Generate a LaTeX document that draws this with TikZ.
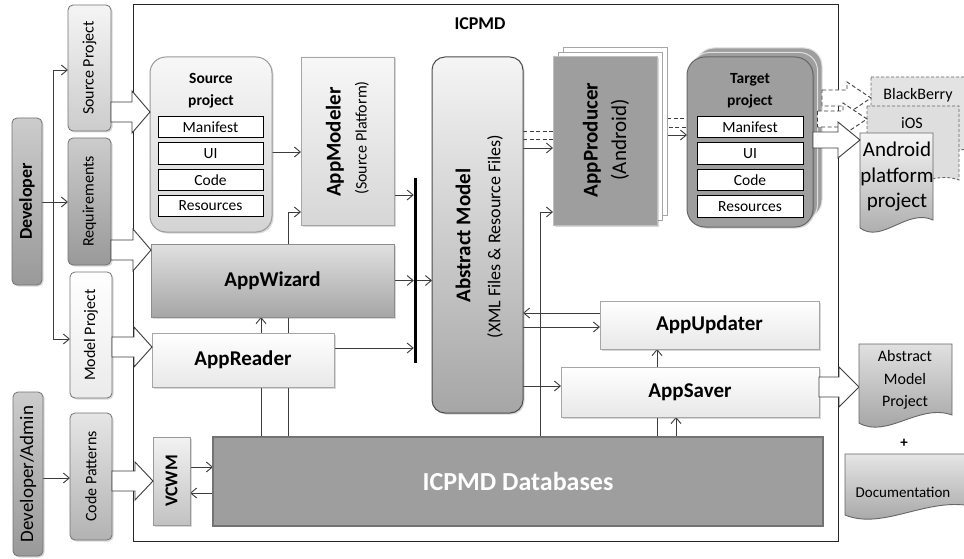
\documentclass[tikz,border=0pt]{standalone}
\usepackage{fontspec}
\setmainfont{Carlito}
\usetikzlibrary{arrows.meta,calc,shadows}
\pgfdeclarelayer{back}
\pgfdeclarelayer{wires}
\pgfsetlayers{back,wires,main}
\definecolor{edge}{HTML}{3C3C3C}

% horizontal outlined block arrow: style, start, tip, shaft half-height, head half-height, head length
\newcommand\blockarrow[6]{%
  \draw[#1] let \p1=#2, \p2=#3 in
    (\x1,\y1+#4pt) -- (\x2-#6pt,\y1+#4pt) -- (\x2-#6pt,\y1+#5pt) -- (\x2,\y1)
    -- (\x2-#6pt,\y1-#5pt) -- (\x2-#6pt,\y1-#4pt) -- (\x1,\y1-#4pt) -- cycle;}
% document sheet with a wavy lower edge, drawn over a placeholder node
\newcommand\docshape[2]{%
  \draw[#2] (#1.north west) -- (#1.north east) -- ($(#1.south east)+(0,-8)$)
    .. controls ($(#1.south west)!0.65!(#1.south east)+(0,-20)$)
    and ($(#1.south west)!0.3!(#1.south east)+(0,16)$) .. (#1.south west) -- cycle;}

\begin{document}
\begin{tikzpicture}[x=1pt,y=-1pt,
  plain/.style={rectangle, inner sep=0pt, outer sep=0pt},
  soft/.style={drop shadow={shadow xshift=1.5pt, shadow yshift=-1.5pt, opacity=0.25, fill=black!60}},
  wire/.style={draw=edge, line width=0.9pt},
  arr/.style={wire, -{Straight Barb[length=6pt,width=10pt]}},
  dwire/.style={wire, dash pattern=on 4pt off 2.5pt},
  fatarrow/.style={draw=edge, line width=0.9pt, fill=white, line join=miter},
  dfatarrow/.style={fatarrow, dash pattern=on 4pt off 2.5pt},
  pill/.style={plain, rounded corners=5pt, draw=black!55, line width=0.8pt, soft},
  panel/.style={plain, draw=black!35, line width=0.9pt, soft},
  item/.style={plain, draw=black, line width=0.9pt, fill=white, minimum width=105pt,
    minimum height=21.5pt, font=\fontsize{15.5}{18}\selectfont},
  txt/.style={inner sep=0pt, align=center},
  sidetxt/.style={txt, rotate=90, font=\fontsize{16}{19}\selectfont},
  bigfont/.style={font=\fontsize{21}{25}\selectfont\bfseries},
  bigtxt/.style={txt, bigfont},
  headtxt/.style={txt, font=\fontsize{15.5}{22}\selectfont\bfseries},
  docfill/.style={draw=black!60, line width=0.9pt},
  ddoc/.style={draw=black!60, line width=0.9pt, dash pattern=on 3pt off 2pt},
]
\begin{pgfonlayer}{back}
  \fill[white] (0,0) rectangle (964,559);
\end{pgfonlayer}
\useasboundingbox (0,0) rectangle (964,559);

% ---------------- ICPMD frame
\node[plain, draw=black!85, line width=1pt, minimum width=705pt, minimum height=536pt] (icpmd) at (485.5,273) {};
\node[txt, font=\fontsize{18}{21}\selectfont\bfseries] (icpmdtitle) at (480,24) {ICPMD};

% ---------------- actors and inputs
\node[pill, top color=black!20, bottom color=black!40, minimum width=30pt, minimum height=167pt] (dev) at (27,201.5) {};
\node[txt, rotate=90, font=\fontsize{18}{21}\selectfont\bfseries] (devtxt) at (dev.center) {Developer};
\node[pill, top color=black!20, bottom color=black!40, minimum width=30pt, minimum height=164pt] (admin) at (28,474) {};
\node[txt, rotate=90, font=\fontsize{19}{22}\selectfont] (admintxt) at (admin.center) {Developer/Admin};

\node[pill, top color=black!4, bottom color=black!20, minimum width=43pt, minimum height=126pt] (srcin) at (89.5,68) {};
\node[sidetxt] (srcintxt) at (srcin.center) {Source Project};
\node[pill, top color=black!20, bottom color=black!40, minimum width=43pt, minimum height=127pt] (req) at (89.5,201.5) {};
\node[sidetxt] (reqtxt) at (req.center) {Requirements};
\node[pill, top color=white, bottom color=black!8, minimum width=42pt, minimum height=126pt] (modin) at (91,335) {};
\node[sidetxt] (modintxt) at (modin.center) {Model Project};
\node[pill, top color=black!10, bottom color=black!30, minimum width=42pt, minimum height=127pt] (pat) at (91,476.5) {};
\node[sidetxt] (pattxt) at (pat.center) {Code Patterns};

% ---------------- source project
\node[plain, rounded corners=16pt, draw=black!40, line width=1pt, top color=black!3, bottom color=black!17, soft,
  minimum width=122pt, minimum height=175pt] (srcproj) at (211,144.5) {};
\node[headtxt] (srcprojtxt) at (211,91) {Source\\project};
\node[item] (sman) at (210.5,127) {Manifest};
\node[item] (sui) at (210.5,153.5) {UI};
\node[item] (scode) at (210.5,180) {Code};
\node[item] (sres) at (210.5,206) {Resources};

% ---------------- modeler, wizard, reader
\node[panel, top color=black!3, bottom color=black!16, minimum width=93pt, minimum height=168pt] (modeler) at (347.5,141) {};
\node[bigtxt, rotate=90] (modelertxt) at (335,142) {AppModeler};
\node[sidetxt] (modelersub) at (362,138) {(Source Platform)};

\node[panel, draw=black!45, top color=black!12, bottom color=black!35, minimum width=243pt, minimum height=73pt, bigfont] (wizard) at (272.5,280.5) {AppWizard};
\node[panel, top color=white, bottom color=black!9, minimum width=182pt, minimum height=54pt, bigfont] (reader) at (243,360) {AppReader};

\node[plain, fill=black, minimum width=3.5pt, minimum height=185pt] (bar) at (415.5,270.5) {};

% ---------------- abstract model
\node[plain, rounded corners=13pt, draw=black!70, line width=1pt, top color=black!4, bottom color=black!35, soft,
  minimum width=91pt, minimum height=356pt] (absm) at (477.5,235) {};
\node[bigtxt, rotate=90] (absmtxt) at (463,235.5) {Abstract Model};
\node[txt, rotate=90, font=\fontsize{18}{21}\selectfont] (absmsub) at (495,236.5) {(XML Files \& Resource Files)};

% ---------------- producer (stacked sheets)
\node[plain, draw=black!35, fill=white, minimum width=104pt, minimum height=168pt] (prodb2) at (615,131) {};
\node[plain, draw=black!35, fill=white, minimum width=104pt, minimum height=168pt] (prodb1) at (610,136) {};
\node[plain, draw=black!25, line width=1pt, fill=black!38, soft, minimum width=104pt, minimum height=168pt] (producer) at (605,141) {};
\node[bigtxt, rotate=90] (producertxt) at (592,140) {AppProducer};
\node[txt, rotate=90, font=\fontsize{21}{25}\selectfont] (producersub) at (620,140) {(Android)};

% ---------------- target project (stacked)
\node[plain, rounded corners=18pt, draw=black!12, line width=1pt, fill=black!38, minimum width=126pt, minimum height=170pt] (targb2) at (759,133) {};
\node[plain, rounded corners=18pt, draw=black!12, line width=1pt, fill=black!38, minimum width=126pt, minimum height=170pt] (targb1) at (754.5,137.5) {};
\node[plain, rounded corners=18pt, draw=black!60, line width=1pt, fill=black!38, soft, minimum width=126pt, minimum height=170pt] (target) at (750,142) {};
\node[headtxt] (targettxt) at (750,91) {Target\\project};
\node[item, minimum width=106pt] (tman) at (750,127) {Manifest};
\node[item, minimum width=106pt] (tui) at (750,153.5) {UI};
\node[item, minimum width=106pt] (tcode) at (750,180) {Code};
\node[item, minimum width=106pt] (tres) at (750,206.5) {Resources};

% ---------------- updater, saver, databases, VCWM
\node[panel, top color=white, bottom color=black!9, minimum width=219pt, minimum height=48pt, bigfont] (updater) at (709.5,325) {AppUpdater};
\node[panel, top color=white, bottom color=black!9, minimum width=258pt, minimum height=50pt, bigfont] (saver) at (690,392) {AppSaver};
\node[plain, fill=black!38, draw=black!55, line width=2pt, minimum width=610pt, minimum height=89pt,
  text=white, font=\fontsize{26}{30}\selectfont\bfseries] (db) at (518,481.5) {ICPMD Databases};
\node[panel, draw=black!40, top color=black!5, bottom color=black!24, minimum width=37pt, minimum height=88pt] (vcwm) at (171.5,481) {};
\node[txt, rotate=90, font=\fontsize{18}{21}\selectfont\bfseries] (vcwmtxt) at (vcwm.center) {VCWM};

% ---------------- output documents (placeholders carry the outlines)
\node[plain, minimum width=104pt, minimum height=83pt] (bbbox) at (923,118.5) {};
\node[plain, minimum width=92pt, minimum height=82pt] (iosbox) at (913,147) {};
\node[plain, minimum width=73pt, minimum height=95pt] (androidbox) at (896.5,180.5) {};
\node[plain, minimum width=93pt, minimum height=79pt] (ampbox) at (905.5,383.5) {};
\node[plain, minimum width=130pt, minimum height=61pt] (docubox) at (910,484.5) {};

% ---------------- thin connectors (behind the boxes)
\begin{pgfonlayer}{wires}
\coordinate (fork) at (53,202);
\draw[wire] (dev.east |- fork) -- (fork);
\draw[arr] (fork) |- (srcin.west |- 0,70);
\draw[arr] (fork) -- (req.west |- fork);
\draw[arr] (fork) |- (modin.west |- 0,339);
\draw[arr] (admin.east |- 0,478) -- (pat.west |- 0,478);
\draw[arr] (srcproj.east |- 0,152) -- (modeler.west |- 0,152);
\draw[arr] (db.north -| 288,0) |- (modeler.west |- 0,212);
\draw[wire] (db.north -| 261,0) -- (reader.south -| 261,0);
\draw[arr] (reader.north -| 261,0) -- (wizard.south -| 261,0);
\draw[arr] (modeler.east |- 0,195) -- (bar.west |- 0,195);
\draw[arr] (wizard.east) -- (bar.west |- wizard.east);
\draw[arr] (bar.east |- wizard.east) -- (absm.west |- wizard.east);
\draw[arr] (reader.east |- 0,348) -- (bar.west |- 0,348);
\draw[dwire] (absm.east |- 0,131) -- (producer.west |- 0,131);
\draw[dwire] (absm.east |- 0,139) -- (producer.west |- 0,139);
\draw[arr] (absm.east |- 0,148) -- (producer.west |- 0,148);
\draw[dwire] (prodb2.east |- 0,118) -- (target.west |- 0,118);
\draw[dwire] (prodb1.east |- 0,127) -- (target.west |- 0,127);
\draw[arr] (producer.east |- 0,135) -- (target.west |- 0,135);
\draw[arr] (db.north -| 540,0) |- (producer.west |- 0,212);
\draw[arr] (updater.west |- 0,313) -- (absm.east |- 0,313);
\draw[arr] (absm.east |- 0,327) -- (updater.west |- 0,327);
\draw[arr] (absm.east |- 0,386) -- (saver.west |- 0,386);
\draw[wire] (db.north -| 657,0) -- (saver.south -| 657,0);
\draw[arr] (saver.north -| 657,0) -- (updater.south -| 657,0);
\draw[arr] (db.north -| 676,0) -- (saver.south -| 676,0);
\draw[arr] (vcwm.east |- 0,467) -- (db.west |- 0,467);
\draw[arr] (db.west |- 0,493) -- (vcwm.east |- 0,493);
\end{pgfonlayer}

% ---------------- block arrows into the inputs
\blockarrow{fatarrow}{(srcin.east |- 0,112)}{(srcproj.west |- 0,112)}{10}{21}{18}
\blockarrow{fatarrow}{(req.east |- 0,250)}{(wizard.west |- 0,250)}{10}{21}{18}
\blockarrow{fatarrow}{(modin.east |- 0,347)}{(reader.west |- 0,347)}{10}{20}{18}
\blockarrow{fatarrow}{(pat.east |- 0,481)}{(vcwm.west |- 0,481)}{10}{19}{18}
\blockarrow{fatarrow}{(saver.east |- 0,387)}{(ampbox.west |- 0,387)}{10}{20}{20}

% ---------------- platform outputs
\docshape{bbbox}{ddoc, fill=black!11}
\node[txt, font=\fontsize{16}{19}\selectfont] (bbtxt) at (918,95) {BlackBerry};
\blockarrow{dfatarrow}{(targb2.east |- 0,98)}{(bbbox.west |- 0,98)}{8}{16}{24}
\docshape{iosbox}{ddoc, fill=black!13}
\node[txt, font=\fontsize{16}{19}\selectfont] (iostxt) at (912,123) {iOS};
\blockarrow{dfatarrow}{(targb1.east |- 0,119)}{(iosbox.west |- 0,119)}{8}{16}{24}
\docshape{androidbox}{docfill, top color=black!4, bottom color=black!35}
\node[txt, font=\fontsize{21}{25.5}\selectfont] (androidtxt) at (897,177) {Android\\platform\\project};
\blockarrow{fatarrow}{(target.east |- 0,140)}{(androidbox.west |- 0,140)}{8}{18}{22}

\docshape{ampbox}{docfill, top color=black!12, bottom color=black!38}
\node[txt, font=\fontsize{16}{22.5}\selectfont] (amptxt) at (905,380) {Abstract\\Model\\Project};
\node[txt, font=\fontsize{15}{18}\selectfont\bfseries] (plus) at (904,443) {+};
\docshape{docubox}{docfill, top color=black!10, bottom color=black!38}
\node[txt, font=\fontsize{15}{18}\selectfont] (docutxt) at (903,492) {Documentation};
\end{tikzpicture}
\end{document}
